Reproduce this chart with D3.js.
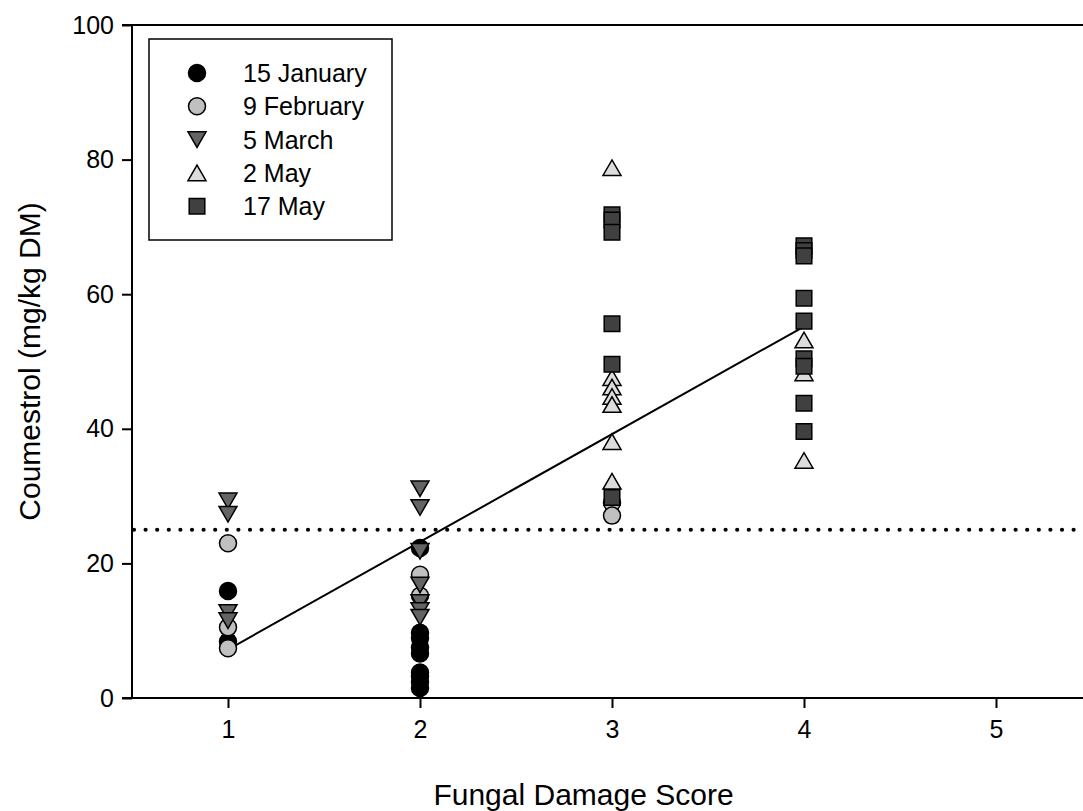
<!DOCTYPE html>
<html>
<head>
<meta charset="utf-8">
<script src="https://cdn.jsdelivr.net/npm/d3@7"></script>
<style>
  html, body { margin: 0; padding: 0; background: #fff; }
  svg { display: block; font-family: "Liberation Sans", Arial, sans-serif; }
</style>
</head>
<body>
<svg id="chart" width="1083" height="811"></svg>
<script>
// Coumestrol content by fungal damage score, per sampling date: [score, mg/kg DM]
const jan15 = [[1,15.9],[1,8.4],[2,22.3],[2,9.7],[2,8.9],[2,7.5],[2,6.6],[2,3.8],[2,3.2],[2,2.4],[2,1.5]];
const feb9  = [[1,23.0],[1,10.5],[1,7.4],[2,18.3],[2,15.2],[3,29.0],[3,27.1]];
const mar5  = [[1,29.3],[1,27.3],[1,12.7],[1,11.5],[2,31.1],[2,28.3],[2,21.8],[2,16.8],[2,14.2],[2,13.0],[2,12.0]];
const may2  = [[3,78.8],[3,47.6],[3,46.2],[3,44.8],[3,43.6],[3,38.1],[3,32.2],[4,53.2],[4,48.3],[4,35.3]];
const may17 = [[3,71.8],[3,71.0],[3,69.2],[3,55.6],[3,49.6],[3,29.8],[4,67.2],[4,66.5],[4,65.7],[4,59.4],[4,56.0],[4,50.4],[4,49.3],[4,43.8],[4,39.6]];

const seriesNames = ["15 January", "9 February", "5 March", "2 May", "17 May"];
const xTicks = [1, 2, 3, 4, 5];
const yTicks = [0, 20, 40, 60, 80, 100];
const fitLine = [[1, 7.2], [4, 55.2]];   // linear regression over scores 1–4
const threshold = 25;                     // dotted reference level

const svg = d3.select("#chart");
const plotLeft = 132, plotTop = 25, plotBottom = 698, plotRight = 1092;

const x = d3.scaleLinear().domain([0.5, 5.5]).range([plotLeft, plotRight]);
const y = d3.scaleLinear().domain([0, 100]).range([plotBottom, plotTop]);

// marker shapes, centred on the origin
const shapes = {
  circle: "M-8.5,0A8.5,8.5 0 1,0 8.5,0A8.5,8.5 0 1,0 -8.5,0Z",
  triDown: "M-9,-7.8L9,-7.8L0,7.8Z",
  triUp: "M-9,7.8L9,7.8L0,-7.8Z",
  square: "M-7.8,-7.8H7.8V7.8H-7.8Z"
};

const series = [
  { name: seriesNames[0], data: jan15, shape: "circle",  fill: "#000000" },
  { name: seriesNames[1], data: feb9,  shape: "circle",  fill: "#c0c0c0" },
  { name: seriesNames[2], data: mar5,  shape: "triDown", fill: "#646464" },
  { name: seriesNames[3], data: may2,  shape: "triUp",   fill: "#dcdcdc" },
  { name: seriesNames[4], data: may17, shape: "square",  fill: "#404040" }
];

// threshold line
svg.append("line")
  .attr("x1", x(0.5) + 2).attr("x2", 1083)
  .attr("y1", y(threshold)).attr("y2", y(threshold))
  .attr("stroke", "#000").attr("stroke-width", 4.2)
  .attr("stroke-linecap", "round").attr("stroke-dasharray", "0 11.6");

// regression line
svg.append("line")
  .attr("x1", x(fitLine[0][0])).attr("y1", y(fitLine[0][1]))
  .attr("x2", x(fitLine[1][0])).attr("y2", y(fitLine[1][1]))
  .attr("stroke", "#000").attr("stroke-width", 2);

// data markers, drawn series by series
series.forEach(s => {
  svg.append("g").selectAll("path").data(s.data).join("path")
    .attr("d", shapes[s.shape])
    .attr("transform", d => `translate(${x(d[0])},${y(d[1])})`)
    .attr("fill", s.fill)
    .attr("stroke", "#000").attr("stroke-width", 1.5);
});

// axes
const yAxis = d3.axisLeft(y).tickValues(yTicks).tickFormat(d3.format("d")).tickSize(10).tickPadding(8);
const xAxis = d3.axisBottom(x).tickValues(xTicks).tickFormat(d3.format("d")).tickSize(10).tickPadding(12);

const gy = svg.append("g").attr("transform", `translate(${plotLeft},0)`).call(yAxis);
const gx = svg.append("g").attr("transform", `translate(0,${plotBottom})`).call(xAxis);
[gx, gy].forEach(g => {
  g.select(".domain").remove();
  g.selectAll(".tick line").attr("stroke", "#000").attr("stroke-width", 2);
  g.selectAll(".tick text").attr("font-size", 25).attr("fill", "#000")
    .attr("font-family", "Liberation Sans, Arial, sans-serif");
});

// frame lines
svg.append("line").attr("x1", plotLeft).attr("x2", plotLeft).attr("y1", plotTop - 1).attr("y2", plotBottom + 1)
  .attr("stroke", "#000").attr("stroke-width", 2);
svg.append("line").attr("x1", plotLeft - 10).attr("x2", 1083).attr("y1", plotBottom).attr("y2", plotBottom)
  .attr("stroke", "#000").attr("stroke-width", 2);
svg.append("line").attr("x1", plotLeft - 10).attr("x2", 1083).attr("y1", plotTop).attr("y2", plotTop)
  .attr("stroke", "#000").attr("stroke-width", 2);

// axis titles
svg.append("text")
  .attr("x", (x(0.5) + 1083) / 2 - 24).attr("y", 805)
  .attr("text-anchor", "middle").attr("font-size", 30).attr("fill", "#000")
  .text("Fungal Damage Score");
svg.append("text")
  .attr("transform", `translate(40,${(plotTop + plotBottom) / 2}) rotate(-90)`)
  .attr("text-anchor", "middle").attr("font-size", 30).attr("fill", "#000")
  .text("Coumestrol (mg/kg DM)");

// legend
const legend = svg.append("g");
legend.append("rect")
  .attr("x", 149).attr("y", 39).attr("width", 243).attr("height", 201)
  .attr("fill", "#fff").attr("stroke", "#000").attr("stroke-width", 1.5);
series.forEach((s, i) => {
  const cy = 73 + i * 33.3;
  legend.append("path").attr("d", shapes[s.shape])
    .attr("transform", `translate(197,${cy})`)
    .attr("fill", s.fill).attr("stroke", "#000").attr("stroke-width", 1.5);
  legend.append("text").attr("x", 243).attr("y", cy + 9)
    .attr("font-size", 25).attr("fill", "#000").text(s.name);
});
</script>
</body>
</html>
